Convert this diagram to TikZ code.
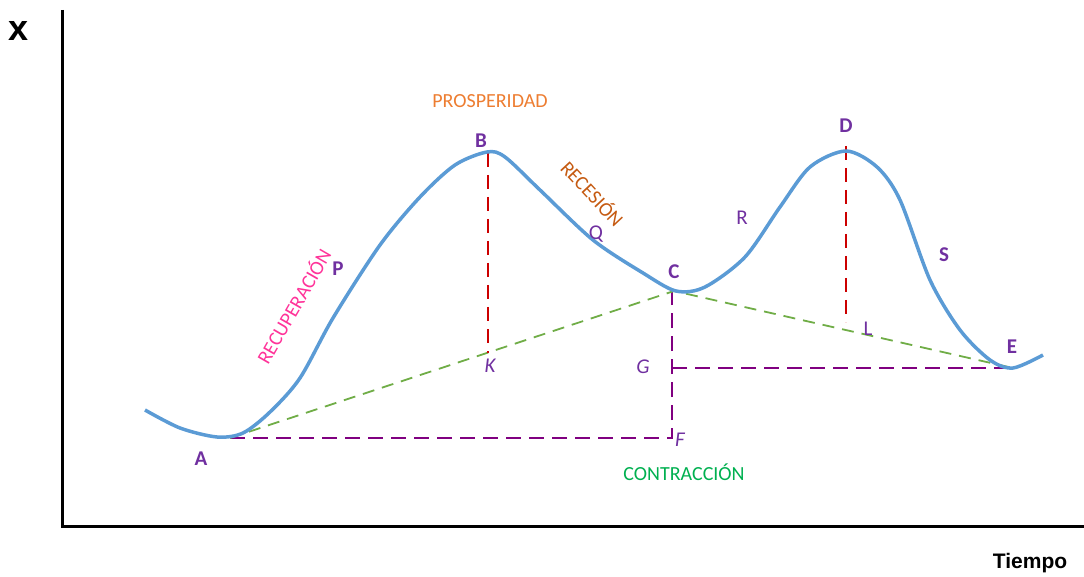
\documentclass[tikz,border=0pt]{standalone}
\usepackage{fontspec}
\setmainfont{Carlito}
\newfontfamily\arialfont{Liberation Sans}
\usetikzlibrary{positioning}
\definecolor{cycleblue}{RGB}{91,155,213}
\definecolor{ptpurple}{RGB}{112,48,160}
\definecolor{lnpurple}{RGB}{128,0,128}
\definecolor{peakred}{RGB}{204,0,0}
\definecolor{trendgreen}{RGB}{112,173,71}
\definecolor{prosorange}{RGB}{237,125,49}
\definecolor{recbrown}{RGB}{197,90,17}
\definecolor{recpink}{RGB}{255,51,153}
\definecolor{contgreen}{RGB}{0,176,80}
\tikzset{
  axis/.style={line width=3pt, black},
  cycle/.style={line width=3.5pt, cycleblue, line join=round},
  peakline/.style={line width=2pt, peakred, dash pattern=on 14pt off 8pt},
  trendline/.style={line width=1.8pt, trendgreen, dash pattern=on 12pt off 8pt},
  levelline/.style={line width=2pt, lnpurple, dash pattern=on 15pt off 8pt},
  pt/.style={text=ptpurple, font=\fontsize{21}{24}\selectfont\bfseries, inner sep=0pt},
  ptlight/.style={text=ptpurple, font=\fontsize{21}{24}\selectfont, inner sep=0pt},
  ptitalic/.style={text=ptpurple, font=\fontsize{21}{24}\selectfont\itshape, inner sep=0pt},
  phase/.style={font=\fontsize{20}{23}\selectfont, inner sep=0pt}
}
\begin{document}
\begin{tikzpicture}[x=1pt, y=-1pt]
\useasboundingbox (0,0) rectangle (1084,577);

%% ── Axes ─────────────────────────────────────────────────────
\coordinate (top) at (62,10);
\coordinate (orig) at (62,526);
\coordinate (right) at (1084,526);
\draw[axis] (top) -- (orig) -- (right);
\node[font=\arialfont\bfseries\fontsize{36}{38}\selectfont, inner sep=0pt] (xlab) at (19,31) {x};
\node[font=\arialfont\bfseries\fontsize{21}{24}\selectfont, inner sep=0pt] (tlab) at (1030,563) {Tiempo};

%% ── Key points ───────────────────────────────────────────────
\coordinate (a) at (230,438);
\coordinate (b) at (488,153);
\coordinate (c) at (674,291);
\coordinate (d) at (846,150);
\coordinate (e) at (1013,368);
\coordinate (k) at (488,353);
\coordinate (dl) at (846,322);
\coordinate (f) at (672,438);
\coordinate (cf) at (672,291);
\coordinate (g) at (672,368);

%% ── Guide lines ──────────────────────────────────────────────
\draw[levelline] (a) -- (f) -- (cf);
\draw[levelline] (g) -- (e);
\draw[trendline] (a) -- (c) -- (e);
\draw[peakline] (b) -- (k);
\draw[peakline] (846,146) -- (dl);

%% ── Cycle curve ──────────────────────────────────────────────
\draw[cycle] plot[smooth, tension=0.5] coordinates {
  (145,410) (180,428) (217,437) (243,433) (270,412) (300,378)
  (333,318) (380,245) (420,197) (455,165) (487,152) (505,157)
  (540,190) (593,240) (643,273) (676,291) (705,287) (745,257)
  (780,207) (810,167) (846,151) (877,167) (900,200) (930,280)
  (960,330) (990,360) (1013,368) (1043,355)};

%% ── Point labels ─────────────────────────────────────────────
\node[pt] (la) at (201,459) {A};
\node[pt] (lp) at (338,269) {P};
\node[pt] (lb) at (481,141) {B};
\node[pt] (lc) at (674,272) {C};
\node[pt] (ld) at (846,126) {D};
\node[pt] (le) at (1012,347) {E};
\node[pt] (ls) at (944,255) {S};
\node[ptlight] (lq) at (596,234) {Q};
\node[ptlight] (lr) at (742,218) {R};
\node[ptlight] (ll) at (868,329) {L};
\node[ptitalic] (lk) at (490,366) {K};
\node[ptitalic] (lg) at (643,367) {G};
\node[ptitalic] (lf) at (680,440) {F};

%% ── Phase labels ─────────────────────────────────────────────
\node[phase, text=prosorange] (pros) at (490,101) {PROSPERIDAD};
\node[phase, text=recbrown, rotate=-47] (rec) at (593,193) {RECESIÓN};
\node[phase, text=recpink, rotate=60] (recup) at (293,306) {RECUPERACIÓN};
\node[phase, text=contgreen] (cont) at (684,472) {CONTRACCIÓN};

\end{tikzpicture}
\end{document}
